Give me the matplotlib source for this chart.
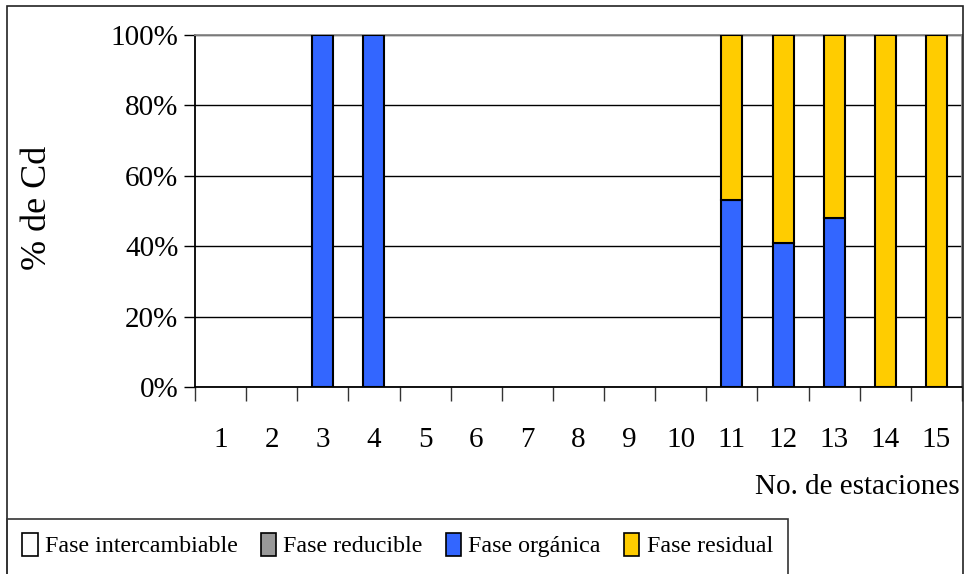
import matplotlib.pyplot as plt
import matplotlib.patches as mpatches
import numpy as np

plt.rcParams['font.family'] = ['Liberation Serif', 'DejaVu Serif']

# estaciones y porcentaje de Cd en cada fase
estaciones = [str(i) for i in range(1, 16)]
intercambiable = [0, 0, 0, 0, 0, 0, 0, 0, 0, 0, 0, 0, 0, 0, 0]
reducible = [0, 0, 0, 0, 0, 0, 0, 0, 0, 0, 0, 0, 0, 0, 0]
organica = [0, 0, 100, 100, 0, 0, 0, 0, 0, 0, 53, 41, 48, 0, 0]
residual = [0, 0, 0, 0, 0, 0, 0, 0, 0, 0, 47, 59, 52, 100, 100]

fases = ["Fase intercambiable", "Fase reducible", "Fase orgánica", "Fase residual"]
colores = ["#ffffff", "#999999", "#3366ff", "#ffcc00"]

W, H = 964, 574
fig = plt.figure(figsize=(W / 100, H / 100), dpi=100)

# marco exterior del grafico
fig.add_artist(mpatches.Rectangle((7 / W, -0.1), (963 - 7) / W, 1.1 - 6 / H,
                                  transform=fig.transFigure, fill=False,
                                  edgecolor="#222222", linewidth=1.2))
# recuadro de la leyenda (se corta por abajo)
fig.add_artist(mpatches.Rectangle((7 / W, -0.1), (788 - 7) / W, 0.1 + (H - 519) / H,
                                  transform=fig.transFigure, fill=False,
                                  edgecolor="#333333", linewidth=1.2))

ax = fig.add_axes([195 / W, (H - 387) / H, (962 - 195) / W, (387 - 35) / H])

x = np.arange(len(estaciones))
datos = [intercambiable, reducible, organica, residual]
base = np.zeros(len(estaciones))
handles = []
for serie, color, nombre in zip(datos, colores, fases):
    vals = np.array(serie, dtype=float)
    hay = vals > 0  # los segmentos de 0% no se dibujan
    ax.bar(x[hay], vals[hay], bottom=base[hay], width=0.41, color=color,
           edgecolor="black", linewidth=1.5, zorder=3)
    base += vals
    handles.append(mpatches.Patch(facecolor=color, edgecolor="black", linewidth=1.2))

ax.set_xlim(-0.5, len(estaciones) - 0.5)
ax.set_ylim(0, 100)
ax.set_yticks(np.arange(0, 101, 20))
ax.set_yticklabels([f"{v}%" for v in range(0, 101, 20)], fontsize=21)
ax.yaxis.grid(True, color="black", linewidth=1)
ax.set_axisbelow(True)

# marcas del eje x entre categorias, etiquetas centradas
ax.set_xticks(np.arange(-0.5, len(estaciones) + 0.5, 1))
ax.set_xticklabels([])
ax.set_xticks(x, minor=True)
ax.set_xticklabels(estaciones, minor=True, fontsize=21)
ax.tick_params(axis='x', which='major', length=10, width=1, color="#333333")
ax.tick_params(axis='x', which='minor', length=0, pad=29)
ax.tick_params(axis='y', length=8, width=1, pad=4)

ax.spines['left'].set_color("black")
ax.spines['bottom'].set_color("black")
ax.spines['top'].set_color("#888888")
ax.spines['right'].set_color("#888888")
for s in ax.spines.values():
    s.set_linewidth(1.3)

fig.text(37 / W, 1 - 208 / H, "% de Cd", rotation=90, ha="center", va="center",
         fontsize=26)
fig.text(960 / W, 1 - 487 / H, "No. de estaciones", ha="right", va="center",
         fontsize=21)

fig.legend(handles, fases, loc="center left", bbox_to_anchor=(22 / W, 1 - 545 / H),
           ncol=4, fontsize=17.3, frameon=False,
           handlelength=0.65, handleheight=1.1, handletextpad=0.3,
           columnspacing=0.95, borderpad=0, borderaxespad=0)

fig.savefig("out.png", dpi=100)
